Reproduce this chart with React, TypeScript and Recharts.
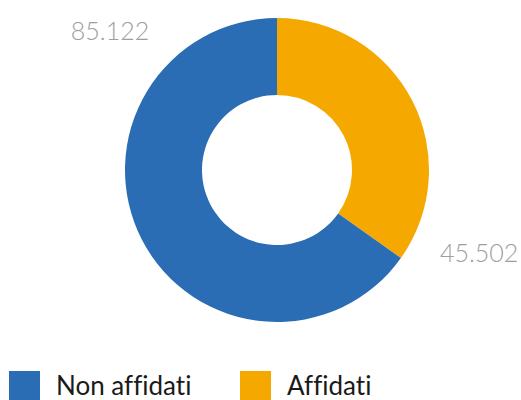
import { PieChart, Pie, Cell } from 'recharts'

// Slice order matches the drawing: clockwise from 12 o'clock
const CATEGORIES = ['Affidati', 'Non affidati']
const VALUES = [45502, 85122]
const COLORS = ['#F5A800', '#2A6DB5']
const LABELS = ['45.502', '85.122']

// Legend reads the other way round
const LEGEND_ORDER = [1, 0]

// Where each value label sits around the ring (degrees, radial offset)
const LABEL_ANGLE = [-22, 140]
const LABEL_GAP = 66

const FONT = 'Lato, "Open Sans", sans-serif'

const data = CATEGORIES.map((name, i) => ({ name, value: VALUES[i] }))

const RAD = Math.PI / 180

function ValueLabel(props: any) {
  const { cx, cy, outerRadius, index } = props
  const r = outerRadius + LABEL_GAP
  const a = LABEL_ANGLE[index] * RAD
  const x = cx + r * Math.cos(a)
  const y = cy - r * Math.sin(a)
  return (
    <text
      x={x}
      y={y}
      textAnchor="middle"
      dominantBaseline="central"
      fill="#9E9E9E"
      fontSize={25}
      fontWeight={300}
      fontFamily={FONT}
    >
      {LABELS[index]}
    </text>
  )
}

export default function App() {
  return (
    <div style={{ position: 'absolute', left: 0, top: 0, width: 521, height: 400, background: '#fff' }}>
      <PieChart width={521} height={400} margin={{ top: 0, right: 0, bottom: 0, left: 0 }}>
        <Pie
          data={data}
          dataKey="value"
          nameKey="name"
          cx={277}
          cy={170}
          innerRadius={75}
          outerRadius={152}
          startAngle={90}
          endAngle={-270}
          stroke="none"
          label={ValueLabel}
          labelLine={false}
          isAnimationActive={false}
        >
          {data.map((d, i) => (
            <Cell key={d.name} fill={COLORS[i]} />
          ))}
        </Pie>
      </PieChart>
      <div
        style={{
          position: 'absolute',
          left: 9,
          top: 371,
          display: 'flex',
          alignItems: 'center',
          fontFamily: FONT,
          fontSize: 26,
          fontWeight: 400,
          fontVariantLigatures: 'none',
          color: '#1a1a1a',
        }}
      >
        {LEGEND_ORDER.map((i, k) => (
          <div key={CATEGORIES[i]} style={{ display: 'flex', alignItems: 'center', width: k === 0 ? 231 : undefined }}>
            <div style={{ width: 31, height: 29, background: COLORS[i], marginRight: 16 }} />
            <span style={{ lineHeight: '29px' }}>{CATEGORIES[i]}</span>
          </div>
        ))}
      </div>
    </div>
  )
}
